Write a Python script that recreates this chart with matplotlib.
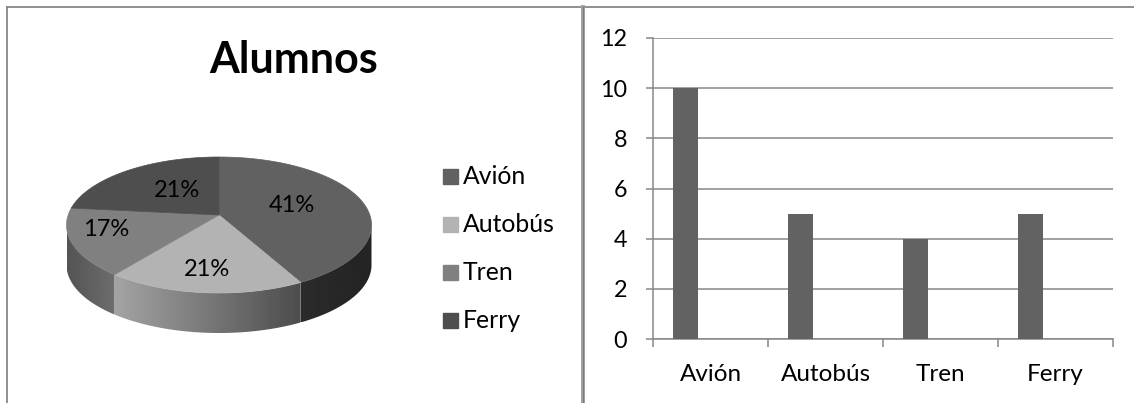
import numpy as np
import matplotlib.pyplot as plt
from matplotlib.patches import Polygon, Rectangle

# datos
modos = ['Avión', 'Autobús', 'Tren', 'Ferry']
pct = [41, 21, 17, 21]          # pie (porcentaje)
alumnos = [10, 5, 4, 5]         # barras
yticks = [0, 2, 4, 6, 8, 10, 12]

# estilo
top_cols = ['#616161', '#b3b3b3', '#808080', '#4e4e4e']
side_cols = [(0.17, 0.14), (0.64, 0.30), (0.33, 0.43), (0.25, 0.25)]
lab_r = [0.50, 0.81, 0.77, 0.45]
gc = '#878787'

W, H = 1134, 403
plt.rcParams['font.family'] = ['Lato', 'DejaVu Sans']
fig = plt.figure(figsize=(W / 100, H / 100), dpi=100)

# capa de fondo en pixeles
bg = fig.add_axes([0, 0, 1, 1])
bg.axis('off')

# marcos
bg.plot([7, 7], [H, 7], color=gc, lw=1.3)
bg.plot([7, W], [7, 7], color=gc, lw=1.3)
bg.plot([582.5, 582.5], [7, H], color='#a0a0a0', lw=2.8)
bg.plot([582.5, 582.5], [7, H], color='#7c7c7c', lw=0.9)

# pie 3d
cx, cy, rx, ry, depth = 219, 225, 152.5, 68, 40
apex = (219, 215)
edges = 90 - 360 * np.concatenate([[0], np.cumsum(pct)]) / sum(pct)


def ell(t):
    t = np.radians(t)
    return cx + rx * np.cos(t), cy - ry * np.sin(t)


for i in range(len(pct)):
    lo = max(edges[i + 1], -180)
    hi = min(edges[i], 0)
    if lo >= hi:
        continue
    t = np.linspace(lo, hi, 80)
    xs, ys = ell(t)
    pts = np.vstack([np.column_stack([xs, ys]),
                     np.column_stack([xs[::-1], ys[::-1] + depth])])
    poly = Polygon(pts, closed=True, facecolor='none', edgecolor='none')
    bg.add_patch(poly)
    grad = np.linspace(side_cols[i][0], side_cols[i][1], 100)[None, :]
    im = bg.imshow(grad, cmap='gray', vmin=0, vmax=1, aspect='auto',
                   extent=(xs.min(), xs.max(), ys.max() + depth, ys.min() - 2),
                   interpolation='bilinear')
    im.set_clip_path(poly)

for i in range(len(pct)):
    t = np.linspace(edges[i], edges[i + 1], 120)
    xs, ys = ell(t)
    pts = np.vstack([[apex], np.column_stack([xs, ys])])
    bg.add_patch(Polygon(pts, closed=True, facecolor=top_cols[i],
                         edgecolor=top_cols[i], lw=0.5))
    m = np.radians((edges[i] + edges[i + 1]) / 2)
    lx = apex[0] + lab_r[i] * rx * np.cos(m)
    ly = apex[1] - lab_r[i] * ry * np.sin(m)
    bg.text(lx, ly, f'{pct[i]}%', fontsize=17, ha='center', va='center')

bg.text(294, 73, 'Alumnos', fontsize=31, fontweight='bold',
        ha='center', va='baseline')

# leyenda
for i, name in enumerate(modos):
    y = 176 + 48 * i
    bg.add_patch(Rectangle((443, y - 7.5), 15, 15, color=top_cols[i]))
    bg.text(463, y + 8, name, fontsize=17.8, ha='left', va='baseline')

bg.set_xlim(0, W)
bg.set_ylim(H, 0)

# barras
ax = fig.add_axes([653 / W, (H - 339) / H, (1113 - 653) / W, (339 - 38) / H])
x = np.arange(len(modos))
ax.bar(x - 0.22, alumnos, width=0.22, color='#626262', zorder=3)
ax.set_xlim(-0.5, len(modos) - 0.5)
ax.set_ylim(0, 12)
ax.set_yticks(yticks)
ax.yaxis.grid(True, color=gc, lw=1.1)
ax.set_axisbelow(True)
for s in ['top', 'right']:
    ax.spines[s].set_visible(False)
for s in ['left', 'bottom']:
    ax.spines[s].set_color(gc)
    ax.spines[s].set_linewidth(1.1)
ax.set_xticks(x)
ax.set_xticklabels(modos)
ax.set_xticks(np.arange(-0.5, len(modos), 1), minor=True)
ax.tick_params(axis='x', which='major', length=0, pad=18, labelsize=17.5)
ax.tick_params(axis='x', which='minor', length=5.8, color=gc, width=1.1)
ax.tick_params(axis='y', length=5, color=gc, width=1.1, pad=13.5, labelsize=16.8)
ax.patch.set_alpha(0)

fig.savefig('out.png', dpi=100)
